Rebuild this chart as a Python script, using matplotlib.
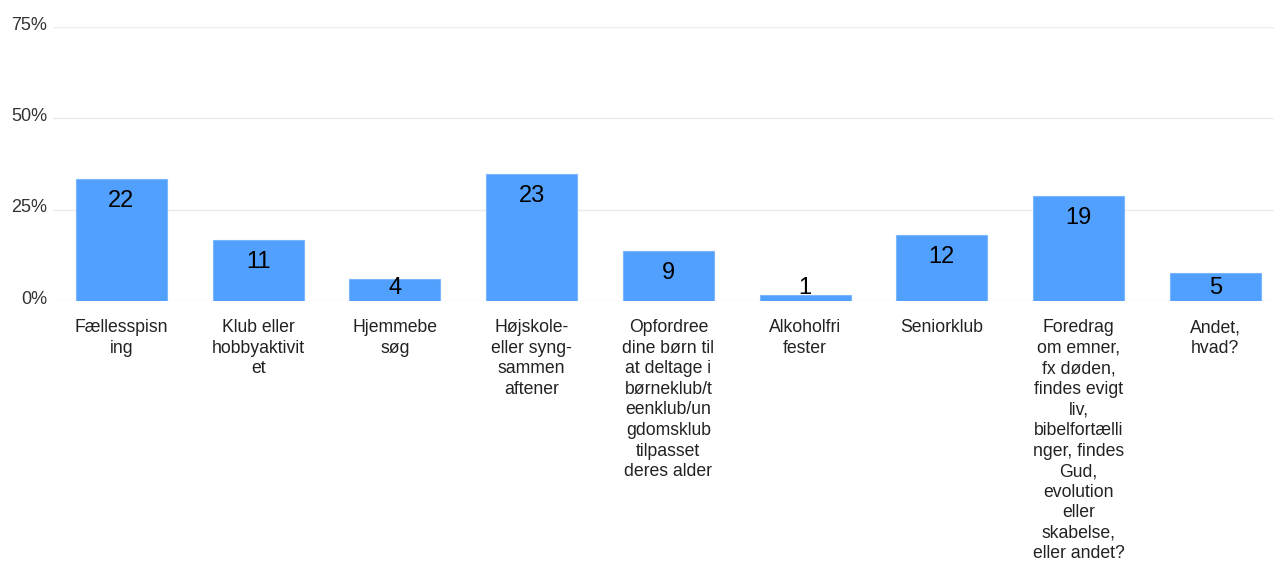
import matplotlib
matplotlib.use("Agg")
import numpy as np
import matplotlib.pyplot as plt
from matplotlib.ticker import PercentFormatter
from matplotlib.transforms import ScaledTranslation

# answers (Danish) with the line breaks used in the chart
categories = [
    "Fællesspisn\ning",
    "Klub eller\nhobbyaktivit\net",
    "Hjemmebe\nsøg",
    "Højskole-\neller syng-\nsammen\naftener",
    "Opfordree\ndine børn til\nat deltage i\nbørneklub/t\neenklub/un\ngdomsklub\ntilpasset\nderes alder",
    "Alkoholfri\nfester",
    "Seniorklub",
    "Foredrag\nom emner,\nfx døden,\nfindes evigt\nliv,\nbibelfortælli\nnger, findes\nGud,\nevolution\neller\nskabelse,\neller andet?",
    "Andet,\nhvad?",
]
counts = [22, 11, 4, 23, 9, 1, 12, 19, 5]
n_respondents = 66
y_ticks = [0, 0.25, 0.5, 0.75]

plt.rcParams['font.family'] = ['Liberation Sans', 'DejaVu Sans']

fig = plt.figure(figsize=(12.74, 5.63), dpi=100)
ax = fig.add_axes([53 / 1274, 262 / 563, 1221 / 1274, 274 / 563])

share = np.array(counts) / n_respondents
x = np.arange(len(counts))
ax.bar(x, share, width=0.665, color='#52a0fe', edgecolor='#7ab6fd', linewidth=0.8, zorder=2)

# count labels a bit below the bar top, never lower than the floor
px_per_unit = 274 / 0.75
offset = 22 / px_per_unit
floor = 13 / px_per_unit
for xi, s, c in zip(x, share, counts):
    ax.text(xi, max(s - offset, floor), str(c), ha='center', va='center',
            fontsize=17, color='black', zorder=3)

ax.set_xlim(-0.5, -0.5 + 1221 / 136.75)
ax.set_ylim(0, 0.75)
ax.set_yticks(y_ticks)
ax.yaxis.set_major_formatter(PercentFormatter(1.0, decimals=0))
ax.grid(axis='y', color='#ebebeb', linewidth=1, zorder=0)
ax.set_axisbelow(True)
for sp in ax.spines.values():
    sp.set_visible(False)

ax.set_xticks(x)
ax.set_xticklabels(categories, fontsize=12.7, color='#222222', linespacing=1.275,
                   va='top')
ax.tick_params(axis='x', length=0, pad=13)
ax.tick_params(axis='y', length=0, pad=4, labelsize=13, labelcolor='#333333')
for lab in ax.get_yticklabels():
    lab.set_transform(lab.get_transform() + ScaledTranslation(0, 4 / 100, fig.dpi_scale_trans))

fig.savefig('out.png', dpi=100, facecolor='white')
